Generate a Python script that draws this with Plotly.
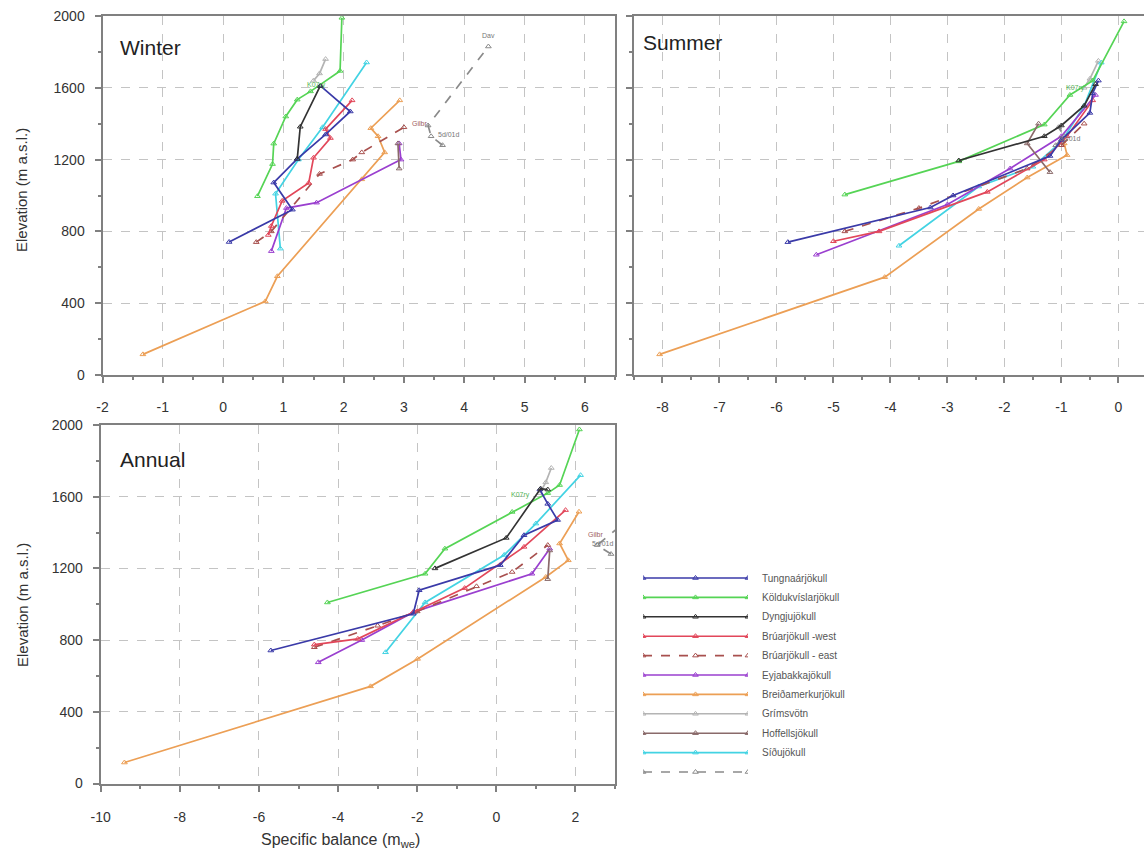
import plotly.graph_objects as go

W, H = 1144, 850

# ---------------- data ----------------
SERIES = ["Tungnaárjökull", "Köldukvíslarjökull", "Dyngjujökull", "Brúarjökull -west",
          "Brúarjökull - east", "Eyjabakkajökull", "Breiðamerkurjökull", "Grímsvötn",
          "Hoffellsjökull", "Síðujökull", ""]

WINTER_XTICKS = [-2, -1, 0, 1, 2, 3, 4, 5, 6]
SUMMER_XTICKS = [-8, -7, -6, -5, -4, -3, -2, -1, 0]
ANNUAL_XTICKS = [-10, -8, -6, -4, -2, 0, 2]
Y_TICKS = [0, 400, 800, 1200, 1600, 2000]

# Winter
W_TUNG_X = [0.1, 1.15, 0.84, 1.23, 1.7, 2.11, 1.62]
W_TUNG_Y = [741, 921, 1072, 1204, 1340, 1468, 1609]
W_KOLD_X = [0.57, 0.82, 0.84, 1.04, 1.23, 1.45, 1.94, 1.97]
W_KOLD_Y = [996, 1175, 1289, 1440, 1534, 1580, 1694, 1990]
W_DYNG_X = [1.23, 1.28, 1.61]
W_DYNG_Y = [1204, 1383, 1610]
W_BRW_X = [0.75, 0.8, 0.98, 1.42, 1.5, 1.78, 1.7, 2.14]
W_BRW_Y = [780, 830, 970, 1070, 1210, 1320, 1370, 1530]
W_BRE_X = [0.55, 0.8, 1.6, 2.15, 2.3, 3.0]
W_BRE_Y = [740, 800, 1120, 1200, 1240, 1380]
W_EYJA_X = [0.8, 1.05, 1.55, 2.95, 2.92]
W_EYJA_Y = [690, 930, 960, 1200, 1290]
W_BREI_X = [-1.33, 0.7, 0.9, 2.3, 2.68, 2.57, 2.45, 2.93]
W_BREI_Y = [115, 410, 550, 1090, 1240, 1330, 1375, 1530]
W_GRIM_X = [1.5, 1.6, 1.7]
W_GRIM_Y = [1640, 1680, 1760]
W_HOFF_X = [2.92, 2.9]
W_HOFF_Y = [1150, 1290]
W_SIDU_X = [0.95, 0.87, 1.25, 1.65, 2.38]
W_SIDU_Y = [704, 1010, 1200, 1380, 1741]
W_UNN_X = [3.64, 3.45, 3.4, 4.4]
W_UNN_Y = [1280, 1330, 1390, 1830]

# Summer
S_TUNG_X = [-5.8, -3.3, -2.9, -1.2, -1.0, -0.5, -0.45, -0.35]
S_TUNG_Y = [740, 933, 1000, 1220, 1310, 1460, 1570, 1640]
S_KOLD_X = [-4.8, -2.8, -1.3, -0.85, -0.45, 0.1]
S_KOLD_Y = [1005, 1190, 1395, 1560, 1640, 1970]
S_DYNG_X = [-2.8, -1.3, -1.0, -0.6, -0.4]
S_DYNG_Y = [1195, 1330, 1390, 1500, 1620]
S_BRW_X = [-5.0, -4.2, -2.3, -1.3, -0.9, -0.45]
S_BRW_Y = [745, 800, 1020, 1200, 1330, 1530]
S_BRE_X = [-4.8, -3.5, -1.6, -1.0, -0.6]
S_BRE_Y = [800, 930, 1150, 1280, 1400]
S_EYJA_X = [-5.3, -3.0, -1.9, -1.0, -0.4]
S_EYJA_Y = [670, 950, 1150, 1330, 1560]
S_BREI_X = [-8.05, -4.1, -2.45, -1.6, -0.9, -0.95]
S_BREI_Y = [115, 545, 925, 1100, 1225, 1290]
S_GRIM_X = [-0.6, -0.5, -0.35]
S_GRIM_Y = [1600, 1650, 1750]
S_HOFF_X = [-1.2, -1.6, -1.4]
S_HOFF_Y = [1130, 1290, 1400]
S_SIDU_X = [-3.85, -2.45, -1.5, -1.0, -0.6, -0.3]
S_SIDU_Y = [720, 1050, 1160, 1300, 1500, 1740]
S_UNN_X = [-1.1, -0.95, -1.05]
S_UNN_Y = [1280, 1330, 1380]

# Annual
A_TUNG_X = [-5.7, -2.1, -1.95, 0.1, 0.7, 1.55, 1.3, 1.1]
A_TUNG_Y = [742, 947, 1078, 1218, 1385, 1470, 1560, 1640]
A_KOLD_X = [-4.27, -1.8, -1.3, 0.4, 1.3, 1.6, 2.1]
A_KOLD_Y = [1010, 1170, 1310, 1515, 1620, 1665, 1975]
A_DYNG_X = [-1.55, 0.25, 1.12, 1.3]
A_DYNG_Y = [1200, 1370, 1645, 1640]
A_BRW_X = [-4.6, -3.5, -2.1, -0.8, 0.7, 1.75]
A_BRW_Y = [775, 807, 955, 1090, 1320, 1525]
A_BRE_X = [-4.6, -3.0, -2.0, -0.5, 0.4, 1.3]
A_BRE_Y = [760, 880, 960, 1100, 1180, 1330]
A_EYJA_X = [-4.5, -3.4, -2.1, 0.9, 1.35]
A_EYJA_Y = [676, 800, 956, 1170, 1310]
A_BREI_X = [-9.4, -3.18, -1.99, 1.25, 1.82, 1.6, 2.09]
A_BREI_Y = [117, 542, 695, 1152, 1245, 1339, 1516]
A_GRIM_X = [1.1, 1.25, 1.39]
A_GRIM_Y = [1620, 1680, 1760]
A_HOFF_X = [1.3, 1.35]
A_HOFF_Y = [1140, 1300]
A_SIDU_X = [-2.8, -1.8, 0.2, 1.0, 2.13]
A_SIDU_Y = [732, 1010, 1275, 1450, 1720]
A_UNN_X = [2.9, 2.55, 3.1]
A_UNN_Y = [1280, 1330, 1430]

# ---------------- styles ----------------
COLORS = ["#3a3aa8", "#55d455", "#333333", "#e2475a", "#a8504e", "#9a3fcf",
          "#ec9f55", "#b4b4b4", "#8a6a6a", "#43d3e3", "#8a8a8a"]
DASHES = ["solid", "solid", "solid", "solid", "dash", "solid", "solid",
          "solid", "solid", "solid", "dash"]

PANELS = [
    ("x", "y", [(W_TUNG_X, W_TUNG_Y), (W_KOLD_X, W_KOLD_Y), (W_DYNG_X, W_DYNG_Y),
                (W_BRW_X, W_BRW_Y), (W_BRE_X, W_BRE_Y), (W_EYJA_X, W_EYJA_Y),
                (W_BREI_X, W_BREI_Y), (W_GRIM_X, W_GRIM_Y), (W_HOFF_X, W_HOFF_Y),
                (W_SIDU_X, W_SIDU_Y), (W_UNN_X, W_UNN_Y)]),
    ("x2", "y2", [(S_TUNG_X, S_TUNG_Y), (S_KOLD_X, S_KOLD_Y), (S_DYNG_X, S_DYNG_Y),
                  (S_BRW_X, S_BRW_Y), (S_BRE_X, S_BRE_Y), (S_EYJA_X, S_EYJA_Y),
                  (S_BREI_X, S_BREI_Y), (S_GRIM_X, S_GRIM_Y), (S_HOFF_X, S_HOFF_Y),
                  (S_SIDU_X, S_SIDU_Y), (S_UNN_X, S_UNN_Y)]),
    ("x3", "y3", [(A_TUNG_X, A_TUNG_Y), (A_KOLD_X, A_KOLD_Y), (A_DYNG_X, A_DYNG_Y),
                  (A_BRW_X, A_BRW_Y), (A_BRE_X, A_BRE_Y), (A_EYJA_X, A_EYJA_Y),
                  (A_BREI_X, A_BREI_Y), (A_GRIM_X, A_GRIM_Y), (A_HOFF_X, A_HOFF_Y),
                  (A_SIDU_X, A_SIDU_Y), (A_UNN_X, A_UNN_Y)]),
]

fig = go.Figure()
ORDER = [6, 7, 9, 1, 5, 4, 10, 3, 8, 0, 2]
for xa, ya, data in PANELS:
    for i in ORDER:
        xs, ys = data[i]
        fig.add_trace(go.Scatter(
            x=xs, y=ys, xaxis=xa, yaxis=ya, mode="lines+markers",
            line=dict(color=COLORS[i], width=1.7, dash=DASHES[i]),
            marker=dict(symbol="triangle-up-open", size=5, color=COLORS[i], line=dict(width=1)),
            showlegend=False, hoverinfo="skip"))

# custom legend (long line samples with three markers)
for i, name in enumerate(SERIES):
    fig.add_trace(go.Scatter(
        x=[0, 0.5, 1], y=[i, i, i], xaxis="x4", yaxis="y4", mode="lines+markers",
        line=dict(color=COLORS[i], width=1.6, dash=DASHES[i]),
        marker=dict(symbol="triangle-up-open", size=5, color=COLORS[i], line=dict(width=1)),
        showlegend=False, hoverinfo="skip"))

FONT = "Arial, Liberation Sans, sans-serif"
AX = dict(showline=True, linecolor="#808080", linewidth=2, mirror=True,
          ticks="outside", ticklen=6, tickwidth=1.5, tickcolor="#808080",
          showgrid=True, gridcolor="#c4c4c4", griddash="dash", gridwidth=1,
          zeroline=False, automargin=False, tickmode="array",
          tickfont=dict(family=FONT, size=14, color="#333"))
MINOR_X1 = dict(dtick=0.5, ticklen=3, tickcolor="#808080", ticks="outside", showgrid=False)
MINOR_X3 = dict(dtick=1, ticklen=3, tickcolor="#808080", ticks="outside", showgrid=False)
MINOR_Y = dict(dtick=200, ticklen=3, tickcolor="#808080", ticks="outside", showgrid=False)


def labels(vals):
    return [str(v) for v in vals]


def px(v):
    return v / W


def py(v):
    return 1 - v / H


layout = dict(
    width=W, height=H, margin=dict(l=0, r=0, t=0, b=0),
    paper_bgcolor="white", plot_bgcolor="white",
    xaxis=dict(AX, domain=[px(102.5), px(615)], range=[-2, 6.5],
               tickvals=WINTER_XTICKS, ticktext=labels(WINTER_XTICKS),
               ticklabelstandoff=12, minor=MINOR_X1, anchor="y"),
    yaxis=dict(AX, domain=[py(375), py(16)], range=[0, 2000],
               tickvals=Y_TICKS, ticktext=labels(Y_TICKS), ticklabelstandoff=7,
               minor=MINOR_Y, anchor="x"),
    xaxis2=dict(AX, domain=[px(634), 1.0], range=[-8.5, 0.45],
                tickvals=SUMMER_XTICKS, ticktext=labels(SUMMER_XTICKS),
                ticklabelstandoff=12, minor=MINOR_X1, anchor="y2"),
    yaxis2=dict(AX, domain=[py(375), py(16)], range=[0, 2000],
                tickvals=Y_TICKS, showticklabels=False, minor=MINOR_Y, anchor="x2"),
    xaxis3=dict(AX, domain=[px(100.7), px(615)], range=[-10, 3],
                tickvals=ANNUAL_XTICKS, ticktext=labels(ANNUAL_XTICKS),
                ticklabelstandoff=14, minor=MINOR_X3, anchor="y3"),
    yaxis3=dict(AX, domain=[py(783.5), py(425)], range=[0, 2000],
                tickvals=Y_TICKS, ticktext=labels(Y_TICKS), ticklabelstandoff=7,
                minor=MINOR_Y, anchor="x3"),
    xaxis4=dict(domain=[px(643), px(748)], range=[0, 1], visible=False, anchor="y4"),
    yaxis4=dict(domain=[py(781.7), py(568.3)], range=[10.5, -0.5], visible=False, anchor="x4"),
)
fig.update_layout(**layout)

ann = []
for txt, x, y in [("Winter", 118, 47), ("Summer", 641, 42), ("Annual", 118, 460)]:
    ann.append(dict(text=txt, x=px(x), y=py(y), xref="paper", yref="paper",
                    xanchor="left", yanchor="middle", showarrow=False,
                    font=dict(family=FONT, size=21, color="#222")))
for yc in [190, 605]:
    ann.append(dict(text="Elevation (m a.s.l.)", x=px(22), y=py(yc), xref="paper", yref="paper",
                    textangle=-90, showarrow=False, xanchor="center", yanchor="middle",
                    font=dict(family=FONT, size=15, color="#333")))
ann.append(dict(text="Specific balance (m<sub>we</sub>)", x=px(340), y=py(840), xref="paper",
                yref="paper", showarrow=False, xanchor="center", yanchor="middle",
                font=dict(family=FONT, size=16, color="#333")))
for i, name in enumerate(SERIES):
    if name:
        ann.append(dict(text=name, x=px(760), y=i, xref="paper", yref="y4", xanchor="left",
                        yanchor="middle", showarrow=False,
                        font=dict(family=FONT, size=10, color="#555")))
SMALL = [("K07ry", 1.55, 1615, "x", "y", "#55b455"), ("Dav", 4.4, 1890, "x", "y", "#777"),
         ("Gilbr", 3.25, 1400, "x", "y", "#a06060"), ("5d/01d", 3.75, 1340, "x", "y", "#777"),
         ("K07ry", -0.75, 1600, "x2", "y2", "#55b455"), ("5d/01d", -0.85, 1320, "x2", "y2", "#777"),
         ("K07ry", 0.6, 1610, "x3", "y3", "#55b455"), ("Gilbr", 2.5, 1390, "x3", "y3", "#a06060"),
         ("5d/01d", 2.7, 1340, "x3", "y3", "#777")]
for t, x, y, xr, yr, c in SMALL:
    ann.append(dict(text=t, x=x, y=y, xref=xr, yref=yr, showarrow=False,
                    font=dict(family=FONT, size=7, color=c)))
fig.update_layout(annotations=ann)

fig.write_html("out.html")
